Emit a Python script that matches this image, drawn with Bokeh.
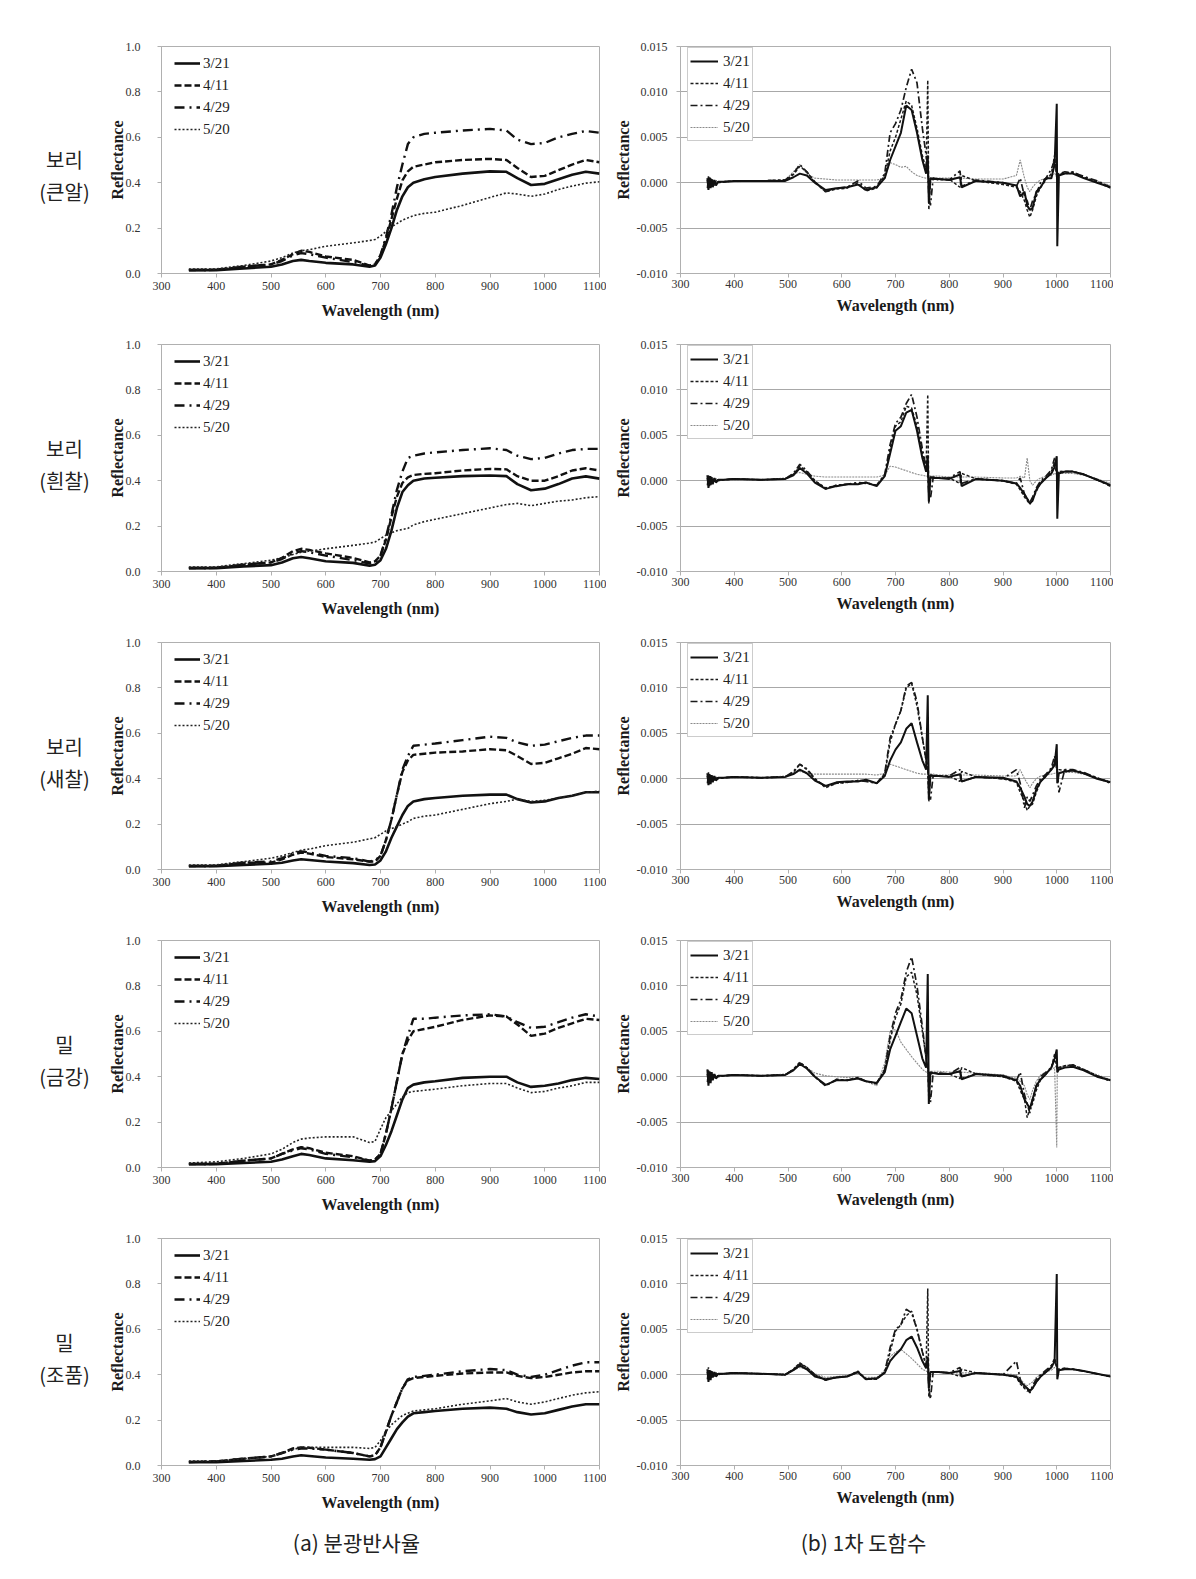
from bokeh.plotting import figure
from bokeh.layouts import column, row
from bokeh.models import Legend, LegendItem, Range1d, FixedTicker, NumeralTickFormatter
from bokeh.embed import file_html
from bokeh.resources import INLINE
from bokeh.core.properties import value

# ---------------- labels ----------------
DATES = ["3/21", "4/11", "4/29", "5/20"]
CROPS = ["보리", "보리", "보리", "밀", "밀"]
CULTIVARS = ["(큰알)", "(흰찰)", "(새찰)", "(금강)", "(조품)"]
CAPTIONS = ["(a) 분광반사율", "(b) 1차 도함수"]
X_LABEL = "Wavelength (nm)"
Y_LABEL = "Reflectance"
X_TICKS = [300, 400, 500, 600, 700, 800, 900, 1000, 1100]
R_TICKS = [0.0, 0.2, 0.4, 0.6, 0.8, 1.0]
D_TICKS = [-10, -5, 0, 5, 10, 15]          # derivative axis in units of 0.001
D_TICK_LABELS = ["-0.010", "-0.005", "0.000", "0.005", "0.010", "0.015"]

# ---------------- (a) spectral reflectance ----------------
WL_A = [350, 400, 450, 500, 520, 540, 555, 570, 600, 650, 680, 690, 700, 710, 720, 730,
        740, 750, 760, 780, 800, 850, 900, 930, 950, 975, 1000, 1025, 1050, 1075, 1100]

R1_321 = [.015, .015, .022, .03, .04, .055, .06, .055, .047, .04, .03, .035, .07, .13, .20, .28,
          .34, .38, .40, .415, .425, .44, .45, .448, .42, .39, .395, .415, .435, .448, .44]
R1_411 = [.015, .016, .03, .04, .06, .085, .10, .095, .075, .06, .035, .04, .08, .15, .24, .33,
          .41, .45, .47, .48, .49, .50, .505, .50, .465, .425, .43, .455, .48, .50, .49]
R1_429 = [.015, .016, .03, .04, .055, .08, .09, .085, .07, .05, .035, .04, .08, .16, .26, .38,
          .48, .57, .60, .615, .62, .63, .637, .63, .59, .57, .575, .60, .615, .628, .62]
R1_520 = [.02, .02, .035, .055, .07, .09, .10, .105, .12, .135, .145, .15, .165, .185, .205, .22,
          .235, .245, .255, .265, .27, .30, .335, .355, .35, .34, .35, .37, .385, .398, .404]

R2_321 = [.015, .015, .022, .028, .04, .058, .064, .058, .045, .038, .025, .03, .05, .10, .18, .28,
          .35, .38, .40, .41, .413, .42, .423, .42, .385, .358, .365, .385, .41, .419, .409]
R2_411 = [.015, .016, .03, .04, .06, .09, .10, .095, .08, .06, .04, .045, .07, .14, .24, .33,
          .39, .415, .425, .43, .433, .445, .452, .45, .42, .40, .40, .42, .445, .455, .445]
R2_429 = [.015, .016, .03, .04, .055, .08, .09, .085, .07, .05, .035, .04, .07, .15, .25, .36,
          .44, .50, .51, .52, .525, .535, .543, .535, .51, .495, .50, .52, .535, .54, .54]
R2_520 = [.02, .02, .035, .05, .06, .075, .085, .09, .10, .115, .125, .13, .145, .16, .17, .18,
          .185, .19, .205, .22, .23, .255, .28, .295, .30, .29, .30, .31, .315, .325, .33]

R3_321 = [.015, .015, .02, .025, .03, .04, .045, .042, .035, .028, .02, .022, .04, .08, .14, .19,
          .24, .28, .30, .31, .315, .325, .33, .33, .31, .295, .30, .315, .325, .34, .34]
R3_411 = [.015, .016, .03, .03, .045, .065, .075, .07, .055, .045, .035, .035, .06, .13, .22, .33,
          .43, .48, .505, .51, .515, .52, .53, .525, .50, .465, .47, .49, .51, .535, .53]
R3_429 = [.015, .016, .03, .035, .05, .07, .08, .075, .06, .05, .035, .04, .06, .13, .22, .33,
          .44, .50, .545, .55, .555, .57, .585, .58, .56, .545, .55, .565, .58, .59, .59]
R3_520 = [.02, .02, .035, .05, .06, .075, .085, .09, .105, .12, .135, .14, .155, .17, .18, .19,
          .20, .21, .225, .235, .24, .265, .29, .30, .31, .30, .305, .315, .325, .34, .345]

R4_321 = [.015, .015, .02, .025, .035, .05, .06, .055, .04, .032, .025, .028, .05, .10, .16, .23,
          .30, .35, .365, .375, .38, .395, .40, .40, .375, .355, .36, .37, .385, .395, .39]
R4_411 = [.015, .016, .03, .04, .06, .08, .09, .085, .065, .05, .03, .035, .06, .15, .26, .38,
          .50, .56, .60, .61, .62, .65, .67, .665, .63, .58, .59, .615, .635, .655, .65]
R4_429 = [.015, .016, .03, .04, .06, .075, .085, .08, .06, .045, .03, .035, .06, .15, .26, .38,
          .50, .58, .655, .655, .66, .67, .675, .665, .64, .615, .62, .64, .66, .675, .665]
R4_520 = [.02, .025, .04, .06, .08, .11, .125, .13, .135, .135, .11, .115, .17, .22, .25, .28,
          .31, .33, .335, .34, .345, .36, .37, .37, .35, .33, .335, .35, .36, .375, .375]

R5_321 = [.015, .015, .02, .025, .03, .04, .045, .042, .035, .03, .025, .028, .04, .08, .12, .16,
          .19, .215, .23, .235, .24, .25, .255, .25, .235, .225, .23, .245, .26, .27, .27]
R5_411 = [.015, .018, .03, .04, .055, .075, .08, .078, .07, .055, .04, .045, .08, .15, .22, .28,
          .34, .375, .385, .39, .395, .405, .41, .41, .395, .385, .39, .40, .41, .415, .415]
R5_429 = [.015, .018, .03, .04, .055, .07, .075, .075, .07, .055, .04, .045, .08, .15, .22, .28,
          .34, .38, .39, .395, .40, .415, .425, .42, .40, .39, .40, .42, .44, .455, .455]
R5_520 = [.02, .02, .03, .04, .055, .07, .08, .08, .08, .08, .075, .08, .11, .15, .18, .20,
          .22, .23, .24, .245, .25, .27, .285, .295, .28, .27, .28, .295, .31, .32, .325]

# ---------------- (b) first derivative (values in 0.001) ----------------
WL_B = [350, 352, 354, 356, 358, 360, 363, 366, 370,
        380, 400, 450, 495,
        510, 522, 535, 550, 570, 590,
        610, 630, 645, 665, 680,
        690, 700, 710, 720, 730, 740, 750,
        757, 760, 762, 765, 770, 780,
        800, 820, 823, 850, 900,
        925, 932, 940, 945, 950, 955, 962, 970, 980, 990,
        996, 1000, 1001, 1004,
        1015, 1030, 1050, 1075, 1100]

D1_321 = [0.5, -0.8, 0.6, -0.6, 0.4, -0.5, 0.3, -0.3, 0.1,
          0.1, 0.2, 0.2, 0.2,
          0.6, 1.0, 0.8, 0.0, -0.8, -0.6,
          -0.5, -0.2, -0.8, -0.5, 0.5,
          2.5, 4.0, 5.5, 8.5, 8.0, 5.5, 2.5,
          1.0, 3.0, -2.2, 0.5, 0.4, 0.4,
          0.3, 0.6, -0.5, 0.2, 0.0,
          -0.3, -1.5, -1.0, -2.5, -3.0, -2.8, -1.0, -0.5, 0.5, 0.5,
          2.0, 8.7, -7.0, 0.8,
          1.0, 1.0, 0.5, 0.0, -0.5]
D1_411 = [-0.6, 0.7, -0.5, 0.5, -0.4, 0.3, -0.3, 0.2, 0.0,
          0.1, 0.2, 0.2, 0.3,
          0.9, 1.8, 1.2, 0.0, -1.0, -0.7,
          -0.6, 0.0, -0.9, -0.6, 0.8,
          3.5, 5.0, 7.0, 9.0, 8.5, 6.0, 3.0,
          1.5, 11.3, -3.0, 0.3, 0.5, 0.3,
          0.4, -0.5, 0.8, 0.2, -0.2,
          -0.5, -1.0, -2.0, -3.0, -3.8, -3.0, -1.5, -0.5, 0.3, 1.0,
          3.0, 0.5, 0.3, 1.0,
          1.0, 1.2, 0.6, 0.1, -0.6]
D1_429 = [0.3, -0.4, 0.4, -0.3, 0.3, -0.2, 0.2, -0.1, 0.1,
          0.1, 0.2, 0.2, 0.3,
          1.0, 2.0, 1.2, 0.1, -1.0, -0.6,
          -0.5, 0.2, -0.6, -0.4, 1.0,
          5.5, 6.5, 8.0, 10.5, 12.5, 11.0, 6.0,
          3.0, 2.0, -1.5, -2.5, 0.5, 0.4,
          0.3, 1.3, -0.4, 0.3, 0.0,
          -0.4, 0.5, -1.5, -2.0, -3.0, -2.0, -1.2, 0.0, 0.5, 1.5,
          2.5, 1.0, 0.8, 1.0,
          1.2, 1.1, 0.7, 0.2, -0.5]
D1_520 = [0.2, -0.3, 0.2, -0.2, 0.1, 0.0, 0.1, 0.0, 0.1,
          0.1, 0.1, 0.2, 0.3,
          1.2, 2.0, 1.0, 0.5, 0.4, 0.3,
          0.3, 0.3, 0.3, 0.3, 0.5,
          2.2, 2.0, 1.7, 1.8, 1.2, 0.8, 0.6,
          0.5, 0.4, 0.4, 0.5, 0.5, 0.5,
          0.5, 0.5, 0.5, 0.4, 0.4,
          0.8, 2.5, 0.5, -0.5, -1.0, -0.5, 0.0, 0.3, 0.5, 0.8,
          1.0, 0.9, 0.9, 1.0,
          1.0, 1.0, 0.6, 0.2, -0.3]

D2_321 = [0.6, -0.8, 0.5, -0.5, 0.4, -0.4, 0.3, -0.2, 0.1,
          0.1, 0.2, 0.1, 0.2,
          0.6, 1.4, 0.8, -0.2, -0.9, -0.6,
          -0.4, -0.4, -0.2, -0.6, 0.5,
          3.0, 5.5, 6.0, 7.5, 7.8, 5.5, 2.5,
          1.0, 2.8, -2.3, 0.4, 0.3, 0.3,
          0.2, 0.7, -0.6, 0.2, 0.0,
          -0.3, -0.8, -1.5, -2.0, -2.5, -2.2, -1.0, -0.3, 0.3, 0.8,
          1.5, 2.7, -4.2, 0.8,
          1.0, 1.0, 0.7, 0.1, -0.5]
D2_411 = [-0.5, 0.6, -0.6, 0.5, -0.3, 0.3, -0.2, 0.2, 0.0,
          0.1, 0.2, 0.1, 0.2,
          0.7, 1.6, 1.0, 0.0, -0.8, -0.5,
          -0.4, -0.3, -0.2, -0.5, 0.6,
          3.5, 6.0, 6.5, 8.2, 8.0, 6.0, 3.0,
          1.5, 9.5, -2.5, 0.3, 0.4, 0.3,
          0.3, -0.3, 0.8, 0.2, 0.0,
          -0.4, -1.0, -1.8, -2.2, -2.6, -2.0, -1.2, -0.2, 0.3, 1.0,
          2.0, 0.6, 0.5, 1.0,
          1.0, 1.0, 0.7, 0.1, -0.5]
D2_429 = [0.3, -0.4, 0.3, -0.3, 0.2, -0.2, 0.2, -0.1, 0.1,
          0.1, 0.2, 0.1, 0.2,
          0.8, 1.8, 1.1, 0.0, -0.9, -0.5,
          -0.4, -0.2, -0.3, -0.5, 0.7,
          4.0, 6.3, 7.0, 8.5, 9.5, 7.0, 3.5,
          1.5, 1.0, -1.5, -2.0, 0.3, 0.3,
          0.3, 1.0, -0.3, 0.2, 0.0,
          -0.3, 0.3, -1.5, -2.0, -2.4, -1.8, -0.8, 0.0, 0.5, 1.2,
          2.5, 1.0, 0.8, 1.0,
          1.0, 1.0, 0.7, 0.1, -0.6]
D2_520 = [0.2, -0.2, 0.2, -0.1, 0.1, 0.0, 0.1, 0.0, 0.1,
          0.1, 0.1, 0.1, 0.3,
          0.8, 0.9, 0.7, 0.5, 0.4, 0.4,
          0.4, 0.4, 0.4, 0.4, 0.6,
          1.6, 1.5, 1.3, 1.1, 0.9, 0.7, 0.6,
          0.5, 0.5, 0.5, 0.5, 0.5, 0.5,
          0.4, 0.4, 0.4, 0.4, 0.3,
          0.3, 0.5, 0.3, 2.5, 0.0, -0.5, 0.0, 0.3, 0.5, 0.6,
          0.8, 0.8, 0.8, 0.8,
          0.8, 0.8, 0.6, 0.2, -0.3]

D3_321 = [0.6, -0.7, 0.5, -0.6, 0.4, -0.4, 0.3, -0.2, 0.1,
          0.1, 0.2, 0.1, 0.2,
          0.5, 1.0, 0.6, -0.2, -0.8, -0.4,
          -0.3, -0.3, -0.1, -0.5, 0.3,
          2.0, 3.2, 4.0, 5.5, 6.1, 4.0, 2.0,
          1.0, 9.2, -2.3, 0.4, 0.3, 0.3,
          0.2, 0.5, -0.3, 0.2, 0.1,
          -0.3, -1.0, -2.0, -2.8, -3.0, -2.5, -1.2, -0.3, 0.3, 1.0,
          1.5, 3.8, -0.5, 0.6,
          0.8, 0.9, 0.6, 0.0, -0.4]
D3_411 = [-0.5, 0.7, -0.6, 0.4, -0.4, 0.3, -0.2, 0.2, 0.0,
          0.1, 0.2, 0.1, 0.2,
          0.7, 1.6, 1.0, 0.0, -1.0, -0.5,
          -0.4, -0.2, -0.2, -0.5, 0.5,
          4.0, 6.0, 7.5, 10.0, 10.5, 8.0, 4.5,
          2.0, 1.5, -2.5, 0.3, 0.4, 0.3,
          0.3, -0.3, 0.8, 0.2, 0.0,
          -0.4, -1.5, -2.5, -3.5, -3.0, -2.8, -1.5, -0.3, 0.3, 1.0,
          2.0, 1.5, 0.8, 1.0,
          0.9, 0.9, 0.6, 0.1, -0.4]
D3_429 = [0.3, -0.4, 0.3, -0.3, 0.2, -0.2, 0.2, -0.1, 0.1,
          0.1, 0.2, 0.1, 0.2,
          0.8, 1.6, 1.1, 0.0, -0.9, -0.5,
          -0.4, -0.2, -0.3, -0.5, 0.6,
          4.5, 6.0, 7.5, 10.2, 10.6, 8.5, 4.5,
          2.0, 1.2, -1.8, -2.3, 0.3, 0.3,
          0.3, 1.0, -0.3, 0.2, 0.0,
          1.0, -0.5, -3.2, -2.0, -2.5, -1.8, -0.8, 0.0, 0.5, 1.2,
          2.5, 1.0, 1.0, -1.5,
          1.0, 1.0, 0.7, 0.1, -0.5]
D3_520 = [0.2, -0.2, 0.2, -0.1, 0.1, 0.0, 0.1, 0.0, 0.1,
          0.1, 0.1, 0.1, 0.3,
          0.7, 0.8, 0.6, 0.5, 0.5, 0.5,
          0.5, 0.5, 0.5, 0.4, 0.6,
          1.6, 1.4, 1.2, 1.0, 0.8, 0.6, 0.5,
          0.5, 0.5, 0.5, 0.5, 0.5, 0.4,
          0.4, 0.4, 0.4, 0.4, 0.3,
          0.3, 1.0, 0.0, -0.5, -1.0, -0.5, 0.0, 0.3, 0.4, 0.5,
          0.6, 0.7, 0.7, 0.7,
          0.7, 0.7, 0.5, 0.1, -0.3]

D4_321 = [0.8, -1.0, 0.6, -0.7, 0.5, -0.4, 0.3, -0.2, 0.1,
          0.1, 0.2, 0.1, 0.2,
          0.7, 1.4, 0.9, 0.0, -0.9, -0.4,
          -0.4, -0.2, -0.5, -0.7, 0.5,
          3.0, 4.5, 6.0, 7.5, 7.0, 4.5, 2.0,
          1.0, 11.3, -3.0, 0.5, 0.4, 0.3,
          0.3, 0.6, -0.3, 0.3, 0.1,
          -0.4, -1.0, -2.5, -3.0, -3.5, -2.5, -1.0, -0.3, 0.3, 1.0,
          2.0, 3.0, 0.5, 0.8,
          1.0, 1.1, 0.7, 0.0, -0.4]
D4_411 = [-0.6, 0.7, -0.5, 0.5, -0.3, 0.3, -0.2, 0.2, 0.0,
          0.1, 0.2, 0.1, 0.2,
          0.8, 1.6, 1.0, 0.0, -1.0, -0.3,
          -0.4, -0.1, -0.5, -0.8, 0.8,
          4.0, 6.5, 8.0, 11.0, 11.5, 9.0, 5.0,
          2.0, 1.0, -2.5, 0.3, 0.4, 0.4,
          0.3, -0.2, 1.0, 0.3, 0.0,
          -0.5, -1.5, -2.5, -4.5, -3.5, -3.0, -1.5, -0.3, 0.3, 1.0,
          2.5, 1.0, 0.8, 1.0,
          1.2, 1.3, 0.8, 0.1, -0.4]
D4_429 = [0.3, -0.4, 0.3, -0.3, 0.2, -0.2, 0.2, -0.1, 0.1,
          0.1, 0.2, 0.1, 0.2,
          0.8, 1.5, 1.0, 0.0, -1.0, -0.3,
          -0.4, -0.1, -0.5, -0.7, 0.8,
          4.5, 7.0, 8.5, 11.5, 13.2, 10.0, 5.5,
          2.0, 1.0, -1.5, -2.8, 0.4, 0.4,
          0.3, 1.0, -0.2, 0.3, 0.0,
          -0.4, 0.5, -2.0, -3.0, -4.0, -2.5, -1.0, 0.0, 0.5, 1.0,
          2.0, 1.0, 1.0, 1.0,
          1.2, 1.3, 0.8, 0.1, -0.5]
D4_520 = [0.2, -0.2, 0.2, -0.1, 0.1, 0.0, 0.1, 0.0, 0.1,
          0.1, 0.2, 0.1, 0.3,
          0.8, 1.3, 1.0, 0.4, 0.1, 0.0,
          -0.1, 0.0, -0.5, -1.0, 1.5,
          5.0, 5.2, 3.8, 3.0, 2.2, 1.5, 0.8,
          0.5, 0.5, 0.5, 0.6, 0.6, 0.6,
          0.5, 0.5, 0.5, 0.4, 0.2,
          -0.2, -0.5, -1.0, -2.0, -2.5, -1.5, -0.5, 0.2, 0.5, 0.8,
          1.0, -7.8, 1.0, 1.0,
          1.1, 1.2, 0.8, 0.2, -0.3]

D5_321 = [0.6, -0.8, 0.5, -0.6, 0.4, -0.3, 0.3, -0.2, 0.1,
          0.1, 0.2, 0.1, 0.0,
          0.5, 1.0, 0.6, -0.2, -0.5, -0.3,
          -0.2, 0.3, -0.5, -0.4, 0.2,
          1.5, 2.2, 2.8, 3.8, 4.2, 3.0, 1.5,
          0.7, 2.0, -1.5, 0.3, 0.3, 0.3,
          0.2, 0.4, -0.2, 0.2, 0.0,
          -0.2, -0.8, -1.2, -1.5, -1.8, -1.5, -0.8, -0.2, 0.3, 0.8,
          1.5, 11.1, -0.5, 0.5,
          0.6, 0.6, 0.4, 0.1, -0.2]
D5_411 = [-0.5, 0.8, -0.6, 0.5, -0.3, 0.3, -0.2, 0.2, 0.0,
          0.1, 0.2, 0.1, 0.0,
          0.6, 1.3, 0.8, 0.0, -0.6, -0.3,
          -0.2, 0.4, -0.5, -0.5, 0.3,
          2.5, 4.8, 5.5, 6.5, 7.0, 5.0, 2.5,
          1.0, 9.5, -2.5, 0.3, 0.3, 0.3,
          0.2, -0.2, 0.6, 0.2, 0.0,
          -0.3, -1.0, -1.5, -1.8, -1.7, -1.5, -0.8, -0.2, 0.3, 1.0,
          1.8, 1.0, 0.6, 0.6,
          0.7, 0.6, 0.4, 0.1, -0.2]
D5_429 = [0.3, -0.4, 0.3, -0.3, 0.2, -0.2, 0.2, -0.1, 0.1,
          0.1, 0.2, 0.1, 0.0,
          0.6, 1.2, 0.8, 0.0, -0.6, -0.3,
          -0.2, 0.3, -0.5, -0.5, 0.3,
          3.0, 5.0, 5.5, 7.2, 6.8, 5.0, 2.5,
          1.0, 1.0, -1.5, -2.7, 0.3, 0.3,
          0.2, 0.8, -0.2, 0.2, 0.0,
          1.5, -0.5, -1.5, -1.5, -2.0, -1.2, -0.5, 0.0, 0.5, 1.0,
          1.5, 0.8, 0.6, 0.6,
          0.7, 0.6, 0.4, 0.1, -0.2]
D5_520 = [0.2, -0.2, 0.2, -0.1, 0.1, 0.0, 0.1, 0.0, 0.1,
          0.1, 0.1, 0.1, 0.1,
          0.5, 0.8, 0.6, 0.1, -0.3, -0.2,
          -0.1, 0.1, -0.3, -0.3, 0.5,
          2.0, 2.5, 2.8, 2.3, 1.8, 1.2, 0.6,
          0.4, 0.3, 0.3, 0.3, 0.3, 0.3,
          0.2, 0.2, 0.2, 0.2, 0.1,
          0.0, -0.5, -1.0, -1.2, -1.0, -0.8, -0.3, 0.0, 0.3, 0.5,
          0.8, 0.7, 0.6, 0.6,
          0.6, 0.6, 0.4, 0.1, -0.2]

REFL = [[R1_321, R1_411, R1_429, R1_520],
        [R2_321, R2_411, R2_429, R2_520],
        [R3_321, R3_411, R3_429, R3_520],
        [R4_321, R4_411, R4_429, R4_520],
        [R5_321, R5_411, R5_429, R5_520]]
DERIV = [[D1_321, D1_411, D1_429, D1_520],
         [D2_321, D2_411, D2_429, D2_520],
         [D3_321, D3_411, D3_429, D3_520],
         [D4_321, D4_411, D4_429, D4_520],
         [D5_321, D5_411, D5_429, D5_520]]

# ---------------- styles & layout ----------------
LEFT_STYLES = [dict(line_width=2.6, line_dash="solid", line_color="#111111"),
               dict(line_width=2.4, line_dash="7 3", line_color="#111111"),
               dict(line_width=2.4, line_dash="10 5 2 5", line_color="#111111"),
               dict(line_width=1.6, line_dash="2 2", line_color="#222222")]
RIGHT_STYLES = [dict(line_width=2.0, line_dash="solid", line_color="#111111"),
                dict(line_width=1.5, line_dash="3 2", line_color="#1a1a1a"),
                dict(line_width=1.7, line_dash="7 3 2 3", line_color="#1a1a1a"),
                dict(line_width=1.1, line_dash="2 1", line_color="#8a8a8a")]

GRAY = "#b0b0b0"
SERIF = "Liberation Serif"
PAGE_PAD = 8
LABEL_W, LEFT_W, RIGHT_W = 90 + PAGE_PAD, 508, 507
L_TOP_FIRST, L_TOP = 36 + PAGE_PAD, 17
R_TOP_FIRST, R_TOP = 38 + PAGE_PAD, 19
L_FRAME_H, R_FRAME_H = 229, 230
ROW_H = 298
ROW_H_FIRST = L_TOP_FIRST + L_FRAME_H + 52


def style_axes(p, x_std, x_lab_std, y_std, y_lab_std):
    for ax in (p.xaxis[0], p.yaxis[0]):
        ax.axis_line_color = GRAY
        ax.major_tick_line_color = GRAY
        ax.major_tick_out = 4
        ax.major_tick_in = 0
        ax.minor_tick_line_color = None
        ax.major_label_text_font = SERIF
        ax.major_label_text_font_size = "12px"
        ax.major_label_text_color = "#333333"
        ax.axis_label_text_font = SERIF
        ax.axis_label_text_font_size = "16px"
        ax.axis_label_text_font_style = "bold"
        ax.axis_label_text_color = "#1a1a1a"
    p.xaxis[0].major_label_standoff = x_std
    p.xaxis[0].axis_label_standoff = x_lab_std
    p.yaxis[0].major_label_standoff = y_std
    p.yaxis[0].axis_label_standoff = y_lab_std
    p.xaxis[0].axis_label = X_LABEL
    p.yaxis[0].axis_label = Y_LABEL
    p.xaxis[0].ticker = FixedTicker(ticks=X_TICKS, minor_ticks=[])
    p.outline_line_color = GRAY


def make_legend(items, vx, vy, boxed):
    return Legend(items=items, location=(vx, vy), orientation="vertical",
                  glyph_width=28 if boxed else 26, glyph_height=22, label_height=22,
                  spacing=0, padding=2 if boxed else 0, margin=0,
                  label_standoff=5 if boxed else 3,
                  label_text_font=SERIF, label_text_font_size="15px", label_text_color="#222222",
                  background_fill_color="white", background_fill_alpha=1.0 if boxed else 0.0,
                  border_line_color="#9a9a9a" if boxed else None, border_line_width=1)


def left_fig(i, first):
    h = ROW_H_FIRST if first else ROW_H
    top = L_TOP_FIRST if first else L_TOP
    p = figure(width=LEFT_W, height=h, x_range=Range1d(300, 1100), y_range=Range1d(0, 1),
               output_backend="svg", toolbar_location=None,
               min_border_left=63, min_border_right=7, min_border_top=top,
               min_border_bottom=h - top - L_FRAME_H)
    style_axes(p, 4, 9, 17, -3)
    p.yaxis[0].ticker = FixedTicker(ticks=R_TICKS, minor_ticks=[])
    p.yaxis[0].formatter = NumeralTickFormatter(format="0.0")
    p.grid.visible = False
    rs = [p.line(WL_A, ys, **st) for ys, st in zip(REFL[i], LEFT_STYLES)]
    items = [LegendItem(label=d, renderers=[r]) for d, r in zip(DATES, rs)]
    p.add_layout(make_legend(items, 13, L_FRAME_H - 8 - 88, False))
    return p


def right_fig(i, first):
    h = ROW_H_FIRST if first else ROW_H
    top = R_TOP_FIRST if first else R_TOP
    p = figure(width=RIGHT_W, height=h, x_range=Range1d(300, 1100), y_range=Range1d(-10, 15),
               output_backend="svg", toolbar_location=None,
               min_border_left=74, min_border_right=3, min_border_top=top,
               min_border_bottom=h - top - R_FRAME_H)
    style_axes(p, 2, 6, 9, 2)
    p.yaxis[0].ticker = FixedTicker(ticks=D_TICKS, minor_ticks=[])
    p.yaxis[0].major_label_overrides = dict(zip(D_TICKS, D_TICK_LABELS))
    p.xgrid.visible = False
    p.ygrid.grid_line_color = "#a8a8a8"
    p.ygrid.grid_line_width = 1
    p.ygrid.ticker = FixedTicker(ticks=D_TICKS)
    rs = [None] * 4
    for k in (3, 2, 1, 0):
        rs[k] = p.line(WL_B, DERIV[i][k], **RIGHT_STYLES[k])
    items = [LegendItem(label=d, renderers=[r]) for d, r in zip(DATES, rs)]
    p.add_layout(make_legend(items, 7, R_FRAME_H - 6 - 92, True))
    return p


def label_fig(i, first):
    h = ROW_H_FIRST if first else ROW_H
    top = L_TOP_FIRST if first else L_TOP
    p = figure(width=LABEL_W, height=h, x_range=Range1d(0, LABEL_W), y_range=Range1d(0, h),
               output_backend="svg", toolbar_location=None, min_border=0, title=None,
               x_axis_location=None, y_axis_location=None)
    p.outline_line_color = None
    p.grid.visible = False
    mid = top + L_FRAME_H / 2
    p.text(x=[64], y=[h - mid - 26], text=[CROPS[i] + "\n" + CULTIVARS[i]],
           text_align="center", text_baseline="middle", text_line_height=1.12,
           text_font=value("Noto Sans CJK KR"), text_font_size="20px", text_color="#222222")
    return p


rows = []
for i in range(5):
    first = i == 0
    rows.append(row(label_fig(i, first), left_fig(i, first), right_fig(i, first)))

TOTAL_W = LABEL_W + LEFT_W + RIGHT_W
cap = figure(width=TOTAL_W, height=50, x_range=Range1d(0, TOTAL_W), y_range=Range1d(0, 50),
             output_backend="svg", toolbar_location=None, min_border=0, title=None,
             x_axis_location=None, y_axis_location=None)
cap.outline_line_color = None
cap.grid.visible = False
cap.text(x=[356, 863], y=[26, 26], text=CAPTIONS, text_align="center", text_baseline="middle",
         text_font=value("Noto Sans CJK KR"), text_font_size="21px", text_color="#222222")

layout = column(*rows, cap)
open("out.html", "w").write(file_html(layout, INLINE, title="Spectral reflectance"))
